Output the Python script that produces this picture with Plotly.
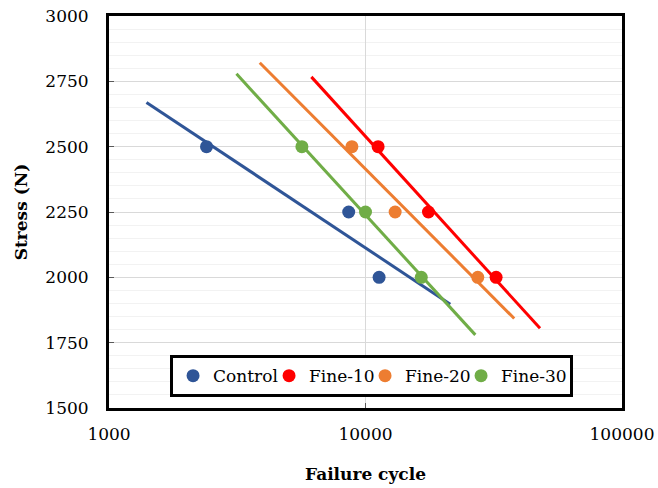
import numpy as np
import plotly.graph_objects as go

# ---- data ----
stress = [2500, 2250, 2000]
series_names = ["Control", "Fine-10", "Fine-20", "Fine-30"]
control_cycles = [2400, 8600, 11300]
fine10_cycles = [11200, 17600, 32300]
fine20_cycles = [8850, 13050, 27400]
fine30_cycles = [5650, 10000, 16500]
# logarithmic trendline extents (failure cycles)
trend_start = [1400, 6150, 3870, 3140]
trend_end = [21400, 47900, 38000, 26800]

x_tick_vals = [1000, 10000, 100000]
x_tick_text = ["1000", "10000", "100000"]
y_tick_vals = [1500, 1750, 2000, 2250, 2500, 2750, 3000]

colors = ["#2F5597", "#FF0000", "#ED7D31", "#70AD47"]
cycles = [control_cycles, fine10_cycles, fine20_cycles, fine30_cycles]

FONT = "DejaVu Serif"

fig = go.Figure()

# trendlines: stress = a*log10(N) + b
for name, cyc, col, xs, xe in zip(series_names, cycles, colors, trend_start, trend_end):
    a, b = np.polyfit(np.log10(cyc), stress, 1)
    tx = np.array([xs, xe], dtype=float)
    ty = a * np.log10(tx) + b
    fig.add_trace(go.Scatter(x=tx, y=ty, mode="lines", showlegend=False,
                             line=dict(color=col, width=3), hoverinfo="skip"))

for i, (name, cyc, col) in enumerate(zip(series_names, cycles, colors)):
    tr = dict(x=cyc, y=stress, mode="markers", name=name,
              marker=dict(color=col, size=13))
    if i == len(series_names) - 1:
        tr["legendwidth"] = 64
    fig.add_trace(go.Scatter(**tr))

fig.update_layout(
    width=658, height=488,
    margin=dict(l=109, r=36, t=16, b=80, autoexpand=False),
    paper_bgcolor="white", plot_bgcolor="white",
    font=dict(family=FONT, size=17, color="black"),
    legend=dict(orientation="h", x=0.119, y=0.135, xanchor="left", yanchor="top",
                bgcolor="white", bordercolor="black", borderwidth=3,
                font=dict(family=FONT, size=17, color="black"),
                entrywidth=51, entrywidthmode="pixels",
                itemwidth=30, tracegroupgap=0),
)

fig.update_xaxes(
    type="log", range=[3, 5], automargin=False,
    tickmode="array", tickvals=x_tick_vals, ticktext=x_tick_text,
    showgrid=True, gridcolor="#D9D9D9", gridwidth=1,
    ticks="inside", ticklen=5, tickcolor="#595959", tickwidth=1,
    showline=True, linecolor="black", linewidth=3, mirror=True,
    zeroline=False, ticklabelstandoff=9,
    tickfont=dict(family=FONT, size=17, color="black"),
    title=dict(text="<b>Failure cycle</b>", standoff=25,
               font=dict(family=FONT, size=17, color="black")),
)
fig.update_yaxes(
    range=[1500, 3000], automargin=False,
    tickmode="array", tickvals=y_tick_vals,
    showgrid=True, gridcolor="#D9D9D9", gridwidth=1,
    minor=dict(dtick=50, showgrid=True, gridcolor="#F2F2F2", gridwidth=1),
    ticks="inside", ticklen=5, tickcolor="#595959", tickwidth=1,
    showline=True, linecolor="black", linewidth=3, mirror=True,
    zeroline=False, ticklabelstandoff=14,
    tickfont=dict(family=FONT, size=17, color="black"),
    title=dict(text="<b>Stress (N)</b>", standoff=14,
               font=dict(family=FONT, size=17, color="black")),
)

fig.write_html("out.html")
